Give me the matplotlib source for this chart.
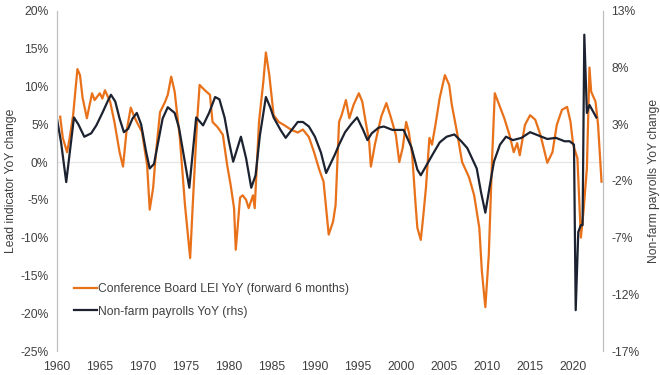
import matplotlib
matplotlib.use("Agg")
import matplotlib.pyplot as plt
from matplotlib.ticker import FuncFormatter

plt.rcParams['font.family'] = ['Liberation Sans', 'DejaVu Sans']

# Conference Board LEI YoY, shifted forward 6 months (left axis, %)
lei_years = [1960.4, 1960.7, 1961.2, 1961.5, 1961.9, 1962.4, 1962.7, 1963.0, 1963.5, 1964.1,
             1964.4, 1965.0, 1965.3, 1965.6, 1966.2, 1966.7, 1967.3, 1967.7, 1968.1, 1968.6,
             1969.0, 1969.3, 1969.9, 1970.5, 1970.8, 1971.2, 1971.5, 1972.0, 1972.6, 1972.9,
             1973.3, 1973.7, 1974.3, 1974.9, 1975.5, 1975.8, 1976.3, 1976.6, 1977.2, 1977.8,
             1978.1, 1978.7, 1979.3, 1979.8, 1980.2, 1980.6, 1980.8, 1981.3, 1981.6, 1982.0,
             1982.3, 1982.8, 1983.0, 1983.5, 1984.0, 1984.3, 1984.7, 1985.2, 1985.8, 1986.4,
             1987.2, 1988.0, 1988.6, 1989.3, 1989.9, 1990.5, 1991.0, 1991.6, 1992.1, 1992.4,
             1992.8, 1993.1, 1993.6, 1994.0, 1994.5, 1995.1, 1995.5, 1995.9, 1996.3, 1996.5,
             1997.0, 1997.7, 1998.3, 1998.8, 1999.4, 1999.8, 2000.2, 2000.6, 2000.9, 2001.3,
             2001.7, 2001.9, 2002.3, 2002.6, 2002.9, 2003.3, 2003.6, 2004.0, 2004.5, 2005.1,
             2005.6, 2005.9, 2006.5, 2007.1, 2007.5, 2007.9, 2008.5, 2009.1, 2009.4, 2009.8,
             2010.2, 2010.6, 2010.9, 2011.4, 2012.0, 2012.6, 2013.1, 2013.5, 2013.8, 2014.4,
             2015.0, 2015.6, 2016.2, 2017.0, 2017.6, 2018.1, 2018.7, 2019.3, 2019.7, 2020.0,
             2020.5, 2020.9, 2021.2, 2021.6, 2021.9, 2022.1, 2022.6, 2022.9, 2023.3]
lei_values = [6.0, 3.2, 1.3, 3.2, 6.2, 12.3, 11.5, 8.5, 5.8, 9.1,
              8.2, 9.1, 8.4, 9.5, 8.0, 5.3, 1.3, -0.6, 4.0, 7.2,
              6.0, 5.3, 4.0, -0.4, -6.3, -3.4, 0.9, 6.6, 8.0, 8.9,
              11.3, 9.3, 3.2, -5.7, -12.7, -5.7, 5.3, 10.2, 9.5, 8.9,
              5.3, 4.6, 3.6, -0.4, -3.0, -6.1, -11.6, -4.7, -4.4, -5.0,
              -6.1, -4.4, -6.1, 5.3, 10.6, 14.5, 11.5, 6.2, 5.3, 4.9,
              4.3, 3.9, 4.3, 3.3, 1.3, -1.0, -2.6, -9.6, -7.9, -5.7,
              5.3, 6.2, 8.2, 5.8, 7.6, 9.1, 8.0, 5.3, 2.7, -0.6,
              2.5, 6.0, 7.8, 6.0, 3.6, 0.0, 1.9, 5.3, 4.0, 1.0,
              -5.7, -8.7, -10.3, -7.0, -3.4, 3.2, 2.3, 4.9, 8.5, 11.5,
              10.2, 7.6, 4.0, 0.0, -1.0, -2.0, -4.4, -8.7, -14.5, -19.2,
              -12.3, 0.9, 9.1, 7.6, 5.8, 3.6, 1.3, 2.5, 0.9, 4.9,
              6.2, 5.6, 3.6, -0.1, 1.3, 4.9, 6.9, 7.3, 5.3, 2.3,
              0.5, -10.0, -6.6, -0.8, 12.5, 9.3, 8.0, 4.9, -2.6]

# Non-farm payrolls YoY (right axis, %)
nfp_years = [1960.0, 1960.5, 1961.1, 1962.0, 1962.5, 1963.2, 1964.0, 1964.6, 1965.3, 1965.9,
             1966.3, 1966.8, 1967.3, 1967.8, 1968.3, 1968.8, 1969.3, 1969.8, 1970.4, 1970.8,
             1971.3, 1971.8, 1972.3, 1972.9, 1973.7, 1974.2, 1974.7, 1975.4, 1975.8, 1976.2,
             1977.0, 1977.7, 1978.4, 1978.9, 1979.5, 1980.0, 1980.5, 1981.4, 1982.0, 1982.6,
             1983.1, 1983.6, 1984.3, 1984.8, 1985.2, 1986.0, 1986.6, 1987.3, 1988.0, 1988.6,
             1989.3, 1990.0, 1990.7, 1991.3, 1991.8, 1992.3, 1992.8, 1993.5, 1994.2, 1994.9,
             1995.6, 1996.1, 1996.6, 1997.4, 1998.0, 1999.0, 2000.3, 2001.2, 2001.9, 2002.3,
             2003.2, 2003.8, 2004.5, 2005.3, 2006.2, 2007.0, 2007.7, 2008.8, 2009.3, 2009.8,
             2010.3, 2010.8, 2011.5, 2012.2, 2013.0, 2014.0, 2015.0, 2016.0, 2017.0, 2018.0,
             2019.0, 2019.6, 2020.1, 2020.3, 2020.6, 2020.9, 2021.1, 2021.3, 2021.6, 2021.9,
             2022.7]
nfp_values = [3.6, 1.4, -2.1, 3.6, 3.0, 1.9, 2.2, 2.9, 4.0, 5.0,
              5.6, 5.0, 3.5, 2.3, 2.6, 3.5, 4.0, 3.0, 0.5, -0.9,
              -0.5, 1.5, 3.5, 4.5, 4.0, 2.7, 0.5, -2.6, 0.5, 3.6,
              2.9, 4.0, 5.4, 5.2, 3.6, 1.5, -0.3, 1.9, 0.0, -2.6,
              -1.5, 2.0, 5.4, 4.5, 3.6, 2.5, 1.8, 2.5, 3.2, 3.2,
              2.8, 1.9, 0.5, -1.3, -0.5, 0.3, 1.2, 2.3, 3.0, 3.6,
              2.5, 1.6, 2.2, 2.7, 2.8, 2.5, 2.5, 1.0, -1.0, -1.5,
              -0.3, 0.5, 1.4, 1.9, 2.1, 1.5, 0.9, -0.9, -3.0, -4.8,
              -2.5, -0.3, 1.2, 1.9, 1.6, 1.8, 2.3, 2.0, 1.7, 1.8,
              1.5, 1.5, 1.2, -13.4, -6.5, -5.9, -5.9, 10.9, 4.0, 4.7,
              3.6]

ORANGE = "#E8711A"
NAVY = "#1C2230"
GREY_TEXT = "#404040"

fig, ax = plt.subplots(figsize=(6.6, 3.75), dpi=100)
fig.subplots_adjust(left=0.086, right=0.914, top=0.971, bottom=0.064)
ax2 = ax.twinx()

ax.axhline(0, color="#e6e6e6", lw=1.0, zorder=0)
l1, = ax.plot(lei_years, lei_values, color=ORANGE, lw=1.6)
l2, = ax2.plot(nfp_years, nfp_values, color=NAVY, lw=1.6)

ax.set_xlim(1960, 2023.5)
ax.set_ylim(-25, 20)
ax2.set_ylim(-17, 13)
ax.set_xticks(range(1960, 2021, 5))
ax.set_yticks(range(-25, 21, 5))
ax2.set_yticks(range(-17, 14, 5))
pct = FuncFormatter(lambda v, _: f"{v:.0f}%")
ax.yaxis.set_major_formatter(pct)
ax2.yaxis.set_major_formatter(pct)

for a in (ax, ax2):
    a.tick_params(length=0, labelsize=8.7, colors=GREY_TEXT)
    for side in ("top", "bottom"):
        a.spines[side].set_visible(False)
    a.spines["left"].set_color("#bfbfbf")
    a.spines["right"].set_color("#bfbfbf")
ax.tick_params(axis="x", pad=7)
ax.tick_params(axis="y", pad=6)
ax2.tick_params(axis="y", pad=6)

ax.set_ylabel("Lead indicator YoY change", fontsize=8.7, color=GREY_TEXT, labelpad=2)
ax2.set_ylabel("Non-farm payrolls YoY change", fontsize=8.7, color=GREY_TEXT, labelpad=6)

ax2.legend([l1, l2], ["Conference Board LEI YoY (forward 6 months)", "Non-farm payrolls YoY (rhs)"],
           loc="lower left", bbox_to_anchor=(0.012, 0.066), frameon=False,
           fontsize=8.7, handlelength=1.9, handletextpad=0.1, labelspacing=0.9,
           labelcolor=GREY_TEXT)

fig.savefig("out.png", dpi=100)
